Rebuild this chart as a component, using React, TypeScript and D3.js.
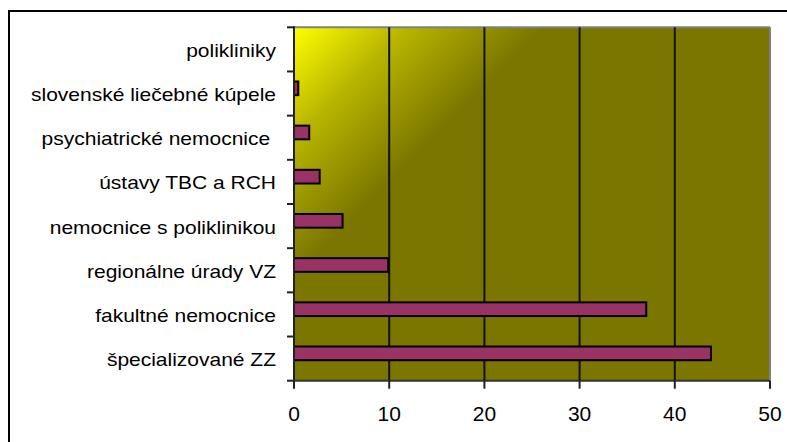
import React from "react";
import * as d3 from "d3";

const categories = [
  "polikliniky",
  "slovenské liečebné kúpele",
  "psychiatrické nemocnice ",
  "ústavy TBC a RCH",
  "nemocnice s poliklinikou",
  "regionálne úrady VZ",
  "fakultné nemocnice",
  "špecializované ZZ",
];
const values = [0, 0.45, 1.6, 2.7, 5.1, 9.9, 37.0, 43.8];
const xTicks = [0, 10, 20, 30, 40, 50];

const W = 787;
const H = 442;
const plot = { left: 294, right: 770, top: 27.3, bottom: 380.7 };

export default function App() {
  const x = d3.scaleLinear().domain([0, 50]).range([plot.left, plot.right]);
  const y = d3
    .scaleBand<string>()
    .domain(categories)
    .range([plot.top, plot.bottom])
    .paddingInner(0)
    .paddingOuter(0);
  const bw = y.bandwidth();
  const boundaries = d3.range(categories.length + 1).map((i) => plot.top + i * bw);

  return (
    <svg
      width={W}
      height={H}
      style={{ position: "absolute", left: 0, top: 0, display: "block" }}
      fontFamily="'Liberation Sans', Arial, sans-serif"
    >
      <defs>
        <linearGradient
          id="bg"
          gradientUnits="userSpaceOnUse"
          x1={plot.left}
          y1={plot.top}
          x2={plot.left + 125}
          y2={plot.top + 125}
        >
          <stop offset="0" stopColor="#FFFF00" />
          <stop offset="0.45" stopColor="#B8B500" />
          <stop offset="1" stopColor="#7A7600" />
        </linearGradient>
      </defs>
      <rect x={0} y={0} width={W} height={H} fill="#fff" />
      {/* outer frame */}
      <rect x={9} y={11} width={W + 20} height={H + 20} fill="none" stroke="#000" strokeWidth={2} />
      {/* plot area */}
      <rect
        x={plot.left}
        y={plot.top}
        width={plot.right - plot.left}
        height={plot.bottom - plot.top}
        fill="url(#bg)"
      />
      {/* border top/right */}
      <line x1={plot.left} x2={plot.right} y1={plot.top} y2={plot.top} stroke="#808080" strokeWidth={2} />
      <line x1={plot.right} x2={plot.right} y1={plot.top} y2={plot.bottom} stroke="#808080" strokeWidth={2} />
      {/* gridlines */}
      {xTicks.slice(1, -1).map((t) => (
        <line key={t} x1={x(t)} x2={x(t)} y1={plot.top} y2={plot.bottom} stroke="#111" strokeWidth={2} />
      ))}
      {/* bars */}
      {categories.map((c, i) =>
        values[i] > 0 ? (
          <rect
            key={c}
            x={x(0)}
            y={(y(c) as number) + bw * 0.226}
            width={x(values[i]) - x(0)}
            height={bw * 0.31}
            fill="#993366"
            stroke="#000"
            strokeWidth={2}
          />
        ) : null
      )}
      {/* y axis */}
      <line x1={plot.left} x2={plot.left} y1={plot.top - 1} y2={plot.bottom + 1} stroke="#222" strokeWidth={2} />
      {boundaries.map((b, i) => (
        <line key={i} x1={plot.left - 7} x2={plot.left} y1={b} y2={b} stroke="#222" strokeWidth={2} />
      ))}
      {/* x axis */}
      <line x1={plot.left} x2={plot.right} y1={plot.bottom} y2={plot.bottom} stroke="#333" strokeWidth={2} />
      {xTicks.map((t) => (
        <line key={t} x1={x(t)} x2={x(t)} y1={plot.bottom} y2={plot.bottom + 8} stroke="#222" strokeWidth={2} />
      ))}
      {xTicks.map((t) => (
        <text key={t} x={x(t)} y={420.5} textAnchor="middle" fontSize={21} fill="#000">
          {t}
        </text>
      ))}
      {/* category labels */}
      {categories.map((c) => (
        <text
          key={c}
          transform={`translate(276, ${(y(c) as number) + bw / 2 + 7.5}) scale(1.2, 1)`}
          textAnchor="end"
          fontSize={17.5}
          fill="#000"
          style={{ whiteSpace: "pre" }}
        >
          {c}
        </text>
      ))}
    </svg>
  );
}
